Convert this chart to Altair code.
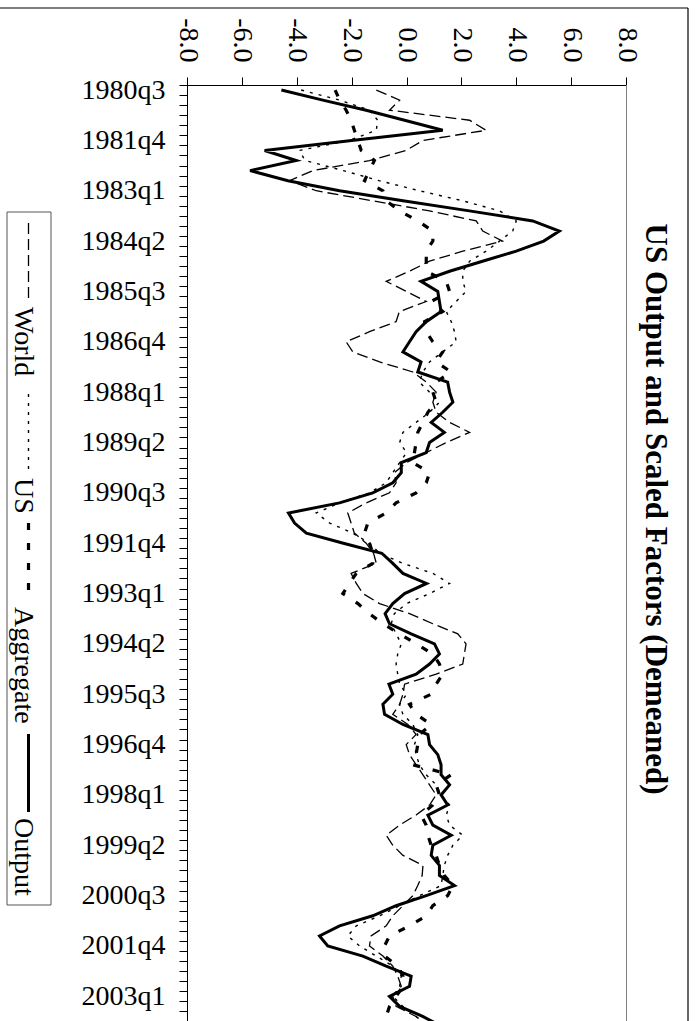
import altair as alt
import pandas as pd

# ---------------- data ----------------
tick_labels = ["1980q3", "1981q4", "1983q1", "1984q2", "1985q3", "1986q4", "1988q1",
               "1989q2", "1990q3", "1991q4", "1993q1", "1994q2", "1995q3", "1996q4",
               "1998q1", "1999q2", "2000q3", "2001q4", "2003q1"]
value_ticks = [-8, -6, -4, -2, 0, 2, 4, 6, 8]

world = [-1.1, -0.25, -0.62, 2.3, 2.9, 0.6, -0.01, -1.35, -3.41, -4.26,
         -3.29, -1.23, 0.84, 2.54, 2.78, 3.5, 2.05, 0.84, 0.1, -0.74,
         0.0, 0.72, -0.26, -0.38, -1.35, -2.2, -1.96, -0.98, 0.23, 0.72,
         1.08, 0.96, 1.08, 1.57, 2.3, 1.45, 0.72, 0.0, -0.44, -0.38,
         -0.62, -1.47, -2.14, -2.02, -1.9, -1.47, -1.2, -1.1, -2.02, -1.83,
         -1.59, -0.98, 0.11, 0.96, 1.87, 2.17, 2.11, 2.05, 1.08, -0.07,
         -0.13, -0.25, -0.5, 0.05, 0.35, -0.01, 0.11, 0.35, 0.6, 0.84,
         1.08, 0.84, 0.35, -0.25, -0.74, -0.5, -0.13, 0.6, 0.57, 0.41,
         0.23, -0.13, -0.5, -0.74, -1.29, -1.35, -0.86, -0.5, -0.32, -0.19,
         -0.5, -0.38, 0.35, 0.8]

us = [-3.84, -2.44, -1.35, -1.05, -1.1, -2.08, -3.9, -3.7, -2.3, -1.0,
      0.47, 2.05, 3.39, 4.0, 3.87, 3.39, 2.9, 2.3, 2.05, 2.05,
      2.17, 1.81, 1.45, 1.63, 1.75, 1.81, 1.32, 0.84, 0.6, 0.47,
      0.84, 1.2, 0.84, 0.35, -0.13, -0.25, 0.0, -0.25, -0.5, -0.74,
      -1.35, -2.44, -3.29, -2.8, -1.96, -1.35, -0.98, -0.13, 0.96, 1.57,
      0.84, 0.0, -0.44, -0.56, -0.38, -0.19, -0.32, -0.38, -0.32, -0.25,
      0.0, -0.25, -0.13, 0.23, 0.41, 0.29, 0.35, 0.47, 0.72, 1.08,
      1.26, 1.57, 1.45, 1.57, 2.05, 1.69, 1.5, 1.38, 1.32, 1.26,
      0.47, -0.25, -0.98, -1.83, -2.14, -1.71, -1.1, -0.5, -0.19, -0.25,
      -0.5, -0.13, 0.35, 0.8]

aggregate = [-2.6, -2.44, -2.2, -2.02, -1.9, -1.77, -1.65, -1.17, -1.35, -1.53,
             -0.86, -0.74, -0.25, 0.41, 0.96, 0.96, 0.72, 0.72, 0.72, 1.45,
             1.57, 0.9, 1.32, 0.66, 0.72, 0.96, 1.32, 1.08, 1.63, 1.08,
             0.96, 1.08, 0.78, 0.6, 0.41, 0.35, 0.29, 0.23, 0.84, 0.72,
             0.35, -0.38, -0.74, -1.41, -1.53, -1.35, -1.23, -1.23, -1.83, -2.08,
             -2.32, -1.77, -1.35, -0.86, -0.25, 0.35, 0.96, 1.2, 1.32, 1.08,
             0.9, 0.11, 0.35, 0.9, 0.47, 0.41, 0.35, 0.23, 1.63, 1.08,
             1.2, 0.96, 0.53, 0.72, 0.78, 0.9, 1.08, 1.2, 1.38, 1.69,
             1.5, 0.96, 0.72, 0.11, -0.62, -0.8, -0.8, -0.32, -0.13, -0.13,
             -0.38, -0.62, -0.74, -0.5]

output = [-4.56, -3.05, -1.47, -0.07, 1.32, -2.0, -5.17, -4.02, -5.7, -4.32,
          -2.44, -0.13, 2.29, 4.6, 5.57, 5.0, 4.0, 2.77, 1.57, 0.53,
          1.14, 1.2, 1.26, 0.72, 0.35, 0.11, -0.13, 0.53, 0.41, 1.5,
          1.57, 1.69, 1.32, 0.9, 1.38, 0.84, 0.72, -0.19, -0.19, -0.5,
          -1.23, -2.44, -4.3, -4.08, -3.65, -2.3, -0.9, -0.5, -0.13, 0.73,
          -0.07, -0.5, -0.78, -0.62, 0.17, 1.02, 1.2, 0.84, 0.35, -0.64,
          -0.5, -0.86, -0.8, -0.13, 0.78, 0.84, 1.14, 1.26, 1.26, 1.57,
          1.26, 1.5, 0.78, 0.96, 1.63, 0.96, 0.9, 1.2, 1.2, 1.75,
          0.72, -0.38, -1.23, -2.44, -3.17, -2.87, -1.59, -0.74, 0.17, 0.11,
          -0.62, -0.25, 0.59, 1.3]

series_names = ["World", "US", "Aggregate", "Output"]

n = len(output)
df = pd.DataFrame({"q": list(range(n)), "World": world, "US": us,
                   "Aggregate": aggregate, "Output": output})

# ---------------- layout ----------------
W, H = 439, 936
STEP = 10.07
FONT = "Liberation Serif"
ydomain = [-0.5, -0.5 + H / STEP]

label_js = "[" + ",".join("'%s'" % s for s in tick_labels) + "]"

x_axis = alt.Axis(orient="top", values=value_ticks, title=None, grid=False,
                  labelExpr="(datum.value < 0 ? '-' : '') + format(abs(datum.value), '.1f')",
                  labelAngle=90, labelAlign="right", labelBaseline="middle",
                  labelPadding=15, labelFlush=False, labelOverlap=False,
                  labelFont=FONT, labelFontSize=28, labelColor="black",
                  tickSize=8, tickColor="black", domainColor="black",
                  tickWidth=1, domainWidth=1)
y_axis = alt.Axis(values=list(range(0, n)), title=None, grid=False,
                  tickOffset=-STEP / 2, labelOffset=STEP / 2,
                  labelExpr="datum.value % 5 === 0 ? " + label_js + "[datum.value / 5] : ''",
                  labelFont=FONT, labelFontSize=28, labelColor="black",
                  labelPadding=14, labelOverlap=False, labelBaseline="middle",
                  tickSize=8, tickColor="black", domainColor="black",
                  tickWidth=1, domainWidth=1)

xscale = alt.Scale(domain=[-8, 8], nice=False, zero=False)
yscale = alt.Scale(domain=ydomain, nice=False, zero=False, reverse=True)

styles = {
    "World": dict(strokeWidth=1.3, strokeDash=[11, 5]),
    "US": dict(strokeWidth=1.4, strokeDash=[3, 6]),
    "Aggregate": dict(strokeWidth=3.2, strokeDash=[7, 13]),
    "Output": dict(strokeWidth=3),
}

base = alt.Chart(df)
layers = []
for name in series_names:
    layers.append(
        base.mark_line(color="black", clip=True, **styles[name]).encode(
            x=alt.X(f"{name}:Q", scale=xscale, axis=x_axis),
            y=alt.Y("q:Q", scale=yscale, axis=y_axis),
            order=alt.Order("q:Q"),
        )
    )

one = pd.DataFrame({"a": [0]})

# plot-area right border (grey)
right_border = alt.Chart(one).mark_rule(color="#808080", strokeWidth=1).encode(
    x=alt.value(W + 0.5), y=alt.value(0), y2=alt.value(H))

# outer chart border (top and right)
outer_top = alt.Chart(one).mark_rule(color="black", strokeWidth=1.2).encode(
    x=alt.value(-187), x2=alt.value(501), y=alt.value(-77))
outer_right = alt.Chart(one).mark_rule(color="black", strokeWidth=1.2).encode(
    x=alt.value(501), y=alt.value(-77), y2=alt.value(H))

# title (rotated)
title = alt.Chart(one).mark_text(
    text="US Output and Scaled Factors (Demeaned)", angle=90, align="center",
    baseline="alphabetic", font=FONT, fontSize=31, fontWeight="bold", color="black"
).encode(x=alt.value(459), y=alt.value(424))

# legend (rotated)
legend_box = alt.Chart(one).mark_rect(fill="white", stroke="#555555", strokeWidth=1).encode(
    x=alt.value(-180), x2=alt.value(-136), y=alt.value(127), y2=alt.value(820))
legend_text_start = {"World": 222, "US": 393, "Aggregate": 522, "Output": 733}
legend_layers = [legend_box]
for name in series_names:
    s = legend_text_start[name]
    legend_layers.append(
        alt.Chart(one).mark_rule(color="black", **styles[name]).encode(
            x=alt.value(-158.5), y=alt.value(s - 84), y2=alt.value(s - 6)))
    legend_layers.append(
        alt.Chart(one).mark_text(text=name, angle=90, align="left", baseline="alphabetic",
                                 font=FONT, fontSize=28, color="black").encode(
            x=alt.value(-172), y=alt.value(s)))

chart = alt.layer(*layers, right_border, outer_top, outer_right, title, *legend_layers).properties(
    width=W, height=H,
    autosize=alt.AutoSizeParams(type="none"),
    padding={"left": 187, "top": 85, "right": 696 - 187 - W, "bottom": 0},
    background="white",
).configure_view(stroke=None)

chart.save("out.html", embed_options={"renderer": "svg", "actions": False})
